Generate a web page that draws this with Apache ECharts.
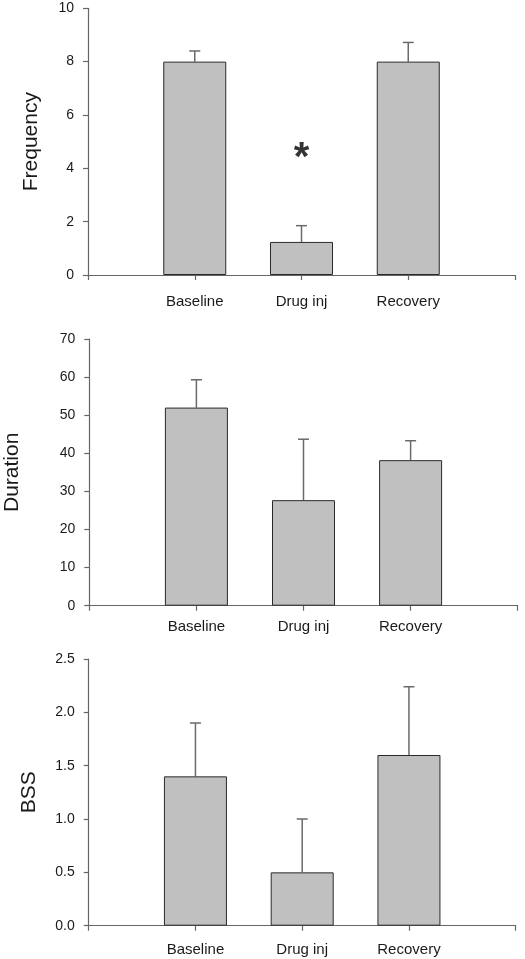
<!DOCTYPE html>
<html>
<head>
<meta charset="utf-8">
<script src="https://cdn.jsdelivr.net/npm/echarts@6/dist/echarts.min.js"></script>
<style>
  html, body { margin: 0; padding: 0; background: #fff; }
  #chart { width: 525px; height: 959px; }
</style>
</head>
<body>
<div id="chart"></div>
<script>
// ---- data ----
var categories = ['', 'Baseline', 'Drug inj', 'Recovery', ''];
var groups = ['Baseline', 'Drug inj', 'Recovery'];

var frequencyMean = [8.0, 1.24, 8.0];
var frequencyTop  = [8.4, 1.85, 8.72];

var durationMean = [52.0, 27.7, 38.2];
var durationTop  = [59.3, 43.7, 43.3];

var bssMean = [1.4, 0.5, 1.6];
var bssTop  = [1.9, 1.0, 2.24];

var frequencyTicks = [0, 2, 4, 6, 8, 10];
var durationTicks = [0, 10, 20, 30, 40, 50, 60, 70];
var bssTicks = [0.0, 0.5, 1.0, 1.5, 2.0, 2.5];

var significance = [{ group: 'Drug inj', y: 4.7, mark: '*' }];

// ---- helpers ----
function barData(vals) {
  var out = categories.map(function () { return '-'; });
  groups.forEach(function (g, i) { out[categories.indexOf(g)] = vals[i]; });
  return out;
}
function errData(mean, top) {
  return groups.map(function (g, i) { return [categories.indexOf(g), mean[i], top[i]]; });
}
function errRender(params, api) {
  var x = api.value(0);
  var p0 = api.coord([x, api.value(1)]);
  var p1 = api.coord([x, api.value(2)]);
  var half = 5.5;
  var style = { stroke: '#6a6a6a', lineWidth: 1.5, fill: null };
  return {
    type: 'group',
    children: [
      { type: 'line', shape: { x1: p0[0], y1: p0[1], x2: p1[0], y2: p1[1] }, style: style },
      { type: 'line', shape: { x1: p1[0] - half, y1: p1[1], x2: p1[0] + half, y2: p1[1] }, style: style }
    ]
  };
}

var FONT = 'Liberation Sans, Arial, sans-serif';
var grids = [
  { left: 88, right: 10, top: 8.3, height: 266.7, outerBoundsMode: 'none', containLabel: false },
  { left: 89.3, right: 7.3, top: 339, height: 266.7, outerBoundsMode: 'none', containLabel: false },
  { left: 88.7, right: 9.3, top: 659, height: 266.7, outerBoundsMode: 'none', containLabel: false }
];
var yNames = ['Frequency', 'Duration', 'BSS'];
var yNameGaps = [46, 67, 49];
var xMargins = [19, 14, 17];
var yTicks = [frequencyTicks, durationTicks, bssTicks];
var means = [frequencyMean, durationMean, bssMean];
var tops = [frequencyTop, durationTop, bssTop];

var xAxes = [], yAxes = [], series = [];
for (var i = 0; i < 3; i++) {
  xAxes.push({
    type: 'category', gridIndex: i, data: categories, boundaryGap: false,
    axisLine: { lineStyle: { color: '#666', width: 1.2 } },
    axisTick: { show: true, length: 5, lineStyle: { color: '#666', width: 1.2 } },
    axisLabel: { color: '#1a1a1a', fontSize: 15, fontFamily: FONT, margin: xMargins[i], interval: 0 },
    splitLine: { show: false }
  });
  var tk = yTicks[i];
  var step = tk[1] - tk[0];
  yAxes.push({
    type: 'value', gridIndex: i, min: tk[0], max: tk[tk.length - 1], interval: step,
    name: yNames[i], nameLocation: 'middle', nameGap: yNameGaps[i], nameRotate: 90,
    nameTextStyle: { fontSize: 21, color: '#1a1a1a', fontFamily: FONT },
    axisLine: { show: true, lineStyle: { color: '#666', width: 1.2 } },
    axisTick: { show: true, length: 5, lineStyle: { color: '#666', width: 1.2 } },
    axisLabel: {
      color: '#1a1a1a', fontSize: 14, fontFamily: FONT, margin: 14,
      formatter: (function (s) { return function (v) { return s < 1 ? v.toFixed(1) : String(v); }; })(step)
    },
    splitLine: { show: false }
  });
  series.push({
    type: 'bar', xAxisIndex: i, yAxisIndex: i, data: barData(means[i]),
    barWidth: 63,
    itemStyle: { color: '#c0c0c0', borderColor: '#2a2a2a', borderWidth: 1 },
    silent: true, z: 2
  });
  series.push({
    type: 'custom', xAxisIndex: i, yAxisIndex: i, data: errData(means[i], tops[i]),
    renderItem: errRender, silent: true, z: 1
  });
}

series.push({
  type: 'scatter', xAxisIndex: 0, yAxisIndex: 0, symbolSize: 1, symbol: 'circle',
  itemStyle: { color: 'rgba(0,0,0,0)' },
  data: significance.map(function (s) { return { value: [categories.indexOf(s.group), s.y], mark: s.mark }; }),
  label: {
    show: true, position: 'inside', offset: [0, 9],
    formatter: function (p) { return p.data.mark; },
    fontSize: 40, fontWeight: 'bold', color: '#000', fontFamily: FONT
  },
  silent: true, z: 5
});

var chart = echarts.init(document.getElementById('chart'), null, { renderer: 'canvas' });
chart.setOption({
  animation: false,
  backgroundColor: '#fff',
  grid: grids,
  xAxis: xAxes,
  yAxis: yAxes,
  series: series
});
</script>
</body>
</html>
